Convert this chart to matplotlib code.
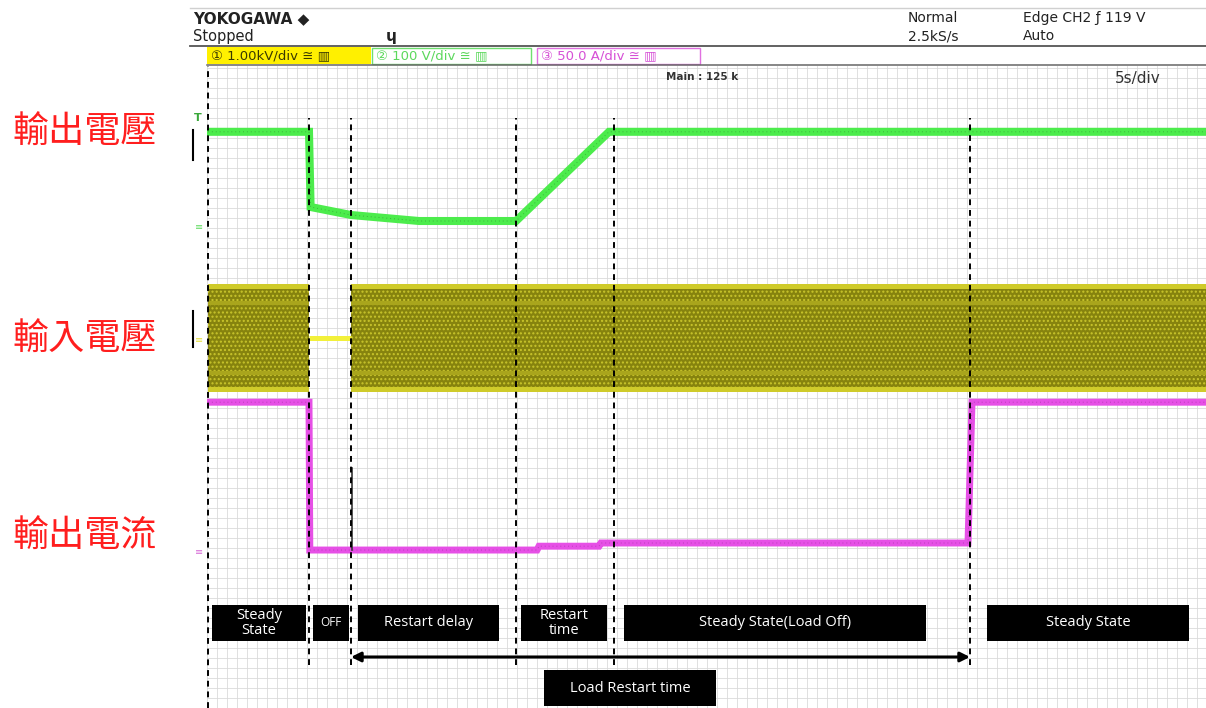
import matplotlib
matplotlib.use('Agg')
import matplotlib.pyplot as plt
import numpy as np
from matplotlib.patches import Rectangle

# ---------------- data ----------------
# time axis: 5 s/div, seconds from left edge of screen
event_t = [5.10, 7.20, 15.45, 20.35, 38.15]          # dashed cursor lines

# CH2 output voltage (100 V/div)
vout_t = [0.05, 5.10, 5.18, 7.20, 10.60, 15.45, 20.10, 49.95]
vout_v = [119, 119, 25, 15, 7.5, 7.5, 119, 119]

# CH1 input voltage (1.00 kV/div) : AC envelope peak, on/off segments
vin_peak = 681
vin_on_segments = [(0.05, 5.10), (7.20, 49.95)]
vin_off_t = [5.10, 7.20]
vin_off_v = [0, 0]

# CH3 output current (50.0 A/div)
iout_t = [0.05, 5.10, 5.14, 16.50, 16.60, 19.60, 19.70, 38.05, 38.25, 49.95]
iout_a = [93, 93, 0.6, 0.6, 3.0, 3.0, 5.0, 5.0, 93, 93]
spike_t = [7.25, 7.25]
spike_a = [0.6, 52]

# channel settings: (units per div, ground position in div from bottom)
ch_scale = {'vin': 1000.0, 'vout': 100.0, 'iout': 50.0}
ch_ground = {'vin': 4.625, 'vout': 6.0125, 'iout': 1.9625}

phase_labels = ["Steady\nState", "OFF", "Restart delay", "Restart\ntime",
                "Steady State(Load Off)", "Steady State", "Load Restart time"]
side_labels = ["輸出電壓", "輸入電壓", "輸出電流"]

# ---------------- figure ----------------
W, H = 1206, 708
fig = plt.figure(figsize=(W / 100, H / 100), dpi=100)
fig.patch.set_facecolor('white')

def to_div(vals, ch):
    return ch_ground[ch] + np.asarray(vals, float) / ch_scale[ch]

# scope screen axes
px_per_div = 80.0
sc = fig.add_axes([207 / W, 0, (W - 207) / W, 642 / H])
sc.set_xlim(0, (W - 207) / 20.0)
sc.set_ylim(0, 642 / px_per_div)
sc.set_xticks(np.arange(0, 50, 0.5))
sc.set_yticks(np.arange(0, 8.1, 0.125))
sc.grid(True, color='#dadada', lw=0.6)
sc.tick_params(length=0, labelbottom=False, labelleft=False)
for s in sc.spines.values():
    s.set_visible(False)
sc.set_axisbelow(True)

# input voltage band
plt.rcParams['hatch.linewidth'] = 1.0
for (a, b) in vin_on_segments:
    tt = [a, b]
    lo = to_div([-vin_peak, -vin_peak], 'vin')
    hi = to_div([vin_peak, vin_peak], 'vin')
    sc.fill_between(tt, lo, hi, facecolor='#86830e', edgecolor='#c9c52c',
                    hatch='....', linewidth=0, zorder=3)
    edge = 0.07
    sc.fill_between(tt, hi - edge, hi, color='#cfcb2a', lw=0, zorder=3.2)
    sc.fill_between(tt, lo, lo + edge, color='#cfcb2a', lw=0, zorder=3.2)
    sc.fill_between(tt, hi - 0.27, hi - 0.22, color='#a9a51c', lw=0, zorder=3.1)
    sc.fill_between(tt, lo + 0.22, lo + 0.27, color='#a9a51c', lw=0, zorder=3.1)
sc.plot(vin_off_t, to_div(vin_off_v, 'vin'), color='#f2f03a', lw=3.6,
        solid_capstyle='butt', zorder=3)

# output voltage
sc.plot(vout_t, to_div(vout_v, 'vout'), color='#4cec4c', lw=5.8,
        solid_joinstyle='miter', zorder=4)
sc.plot(vout_t, to_div(vout_v, 'vout'), color='#2f8f2f', lw=0.7,
        dashes=(1, 3), alpha=0.6, zorder=4.1)

# output current
sc.plot(iout_t, to_div(iout_a, 'iout'), color='#e650e6', lw=5.0,
        solid_joinstyle='miter', zorder=4)
sc.plot(iout_t, to_div(iout_a, 'iout'), color='#8a2a8a', lw=0.7,
        dashes=(1, 3), alpha=0.5, zorder=4.1)
sc.plot(spike_t, to_div(spike_a, 'iout'), color='#333333', lw=1.2, zorder=4.2)

# cursor lines
ytop = (708 - 118) / px_per_div / (642 / px_per_div)
ybot = (708 - 665) / px_per_div / (642 / px_per_div)
for t in event_t:
    sc.axvline(t, ymin=ybot, ymax=ytop, color='black', lw=1.4,
               dashes=(3, 2.5), zorder=5)
sc.axvline(0.05, color='black', lw=1.4, dashes=(3, 2.5), zorder=5)

# load restart arrow
y_arrow = (708 - 657) / px_per_div
sc.annotate('', xy=(event_t[1], y_arrow), xytext=(event_t[4], y_arrow),
            arrowprops=dict(arrowstyle='<|-|>', lw=2.2, color='black',
                            mutation_scale=14, shrinkA=0, shrinkB=0),
            zorder=6)

# ---------------- overlay (pixel coordinates) ----------------
ov = fig.add_axes([0, 0, 1, 1], zorder=10)
ov.set_xlim(0, W)
ov.set_ylim(H, 0)
ov.axis('off')
ov.patch.set_alpha(0)

fam = ['DejaVu Sans', 'Noto Sans CJK JP']
# header lines
ov.plot([190, W], [8, 8], color='#d0d0d0', lw=1)
ov.plot([190, W], [46, 46], color='#555555', lw=1.3)
ov.plot([207, W], [64.5, 64.5], color='#666666', lw=1.1)

ov.text(193, 19, "YOKOGAWA ◆", fontsize=11, fontweight='bold', color='#222',
        va='center', ha='left', family=fam)
ov.text(193, 37, "Stopped", fontsize=10.5, color='#222', va='center', family=fam)
ov.text(386, 36, "ɥ", fontsize=11, fontweight='bold', color='#222', va='center',
        family=fam)
ov.text(908, 18, "Normal", fontsize=10, color='#222', va='center', family=fam)
ov.text(908, 36, "2.5kS/s", fontsize=10, color='#222', va='center', family=fam)
ov.text(1023, 18, "Edge CH2 ƒ 119 V", fontsize=10, color='#222', va='center',
        family=fam)
ov.text(1023, 36, "Auto", fontsize=10, color='#222', va='center', family=fam)

# channel bar
ov.add_patch(Rectangle((207, 47), 164, 17, facecolor='#fff000', edgecolor='none'))
ov.add_patch(Rectangle((372, 47.5), 159, 16, facecolor='white',
                       edgecolor='#6fe06f', lw=1))
ov.add_patch(Rectangle((537, 47.5), 163, 16, facecolor='white',
                       edgecolor='#e070e0', lw=1))
ov.text(211, 56, "① 1.00kV/div ≅ ▥", fontsize=9.5, color='#3a3a00',
        va='center', family=fam)
ov.text(376, 56, "② 100 V/div ≅ ▥", fontsize=9.5, color='#5cd85c',
        va='center', family=fam)
ov.text(541, 56, "③ 50.0 A/div ≅ ▥", fontsize=9.5, color='#d650d6',
        va='center', family=fam)

ov.text(666, 77, "Main : 125 k", fontsize=7.5, fontweight='bold', color='#333',
        va='center', family=fam)
ov.text(1115, 78, "5s/div", fontsize=11, color='#333', va='center', family=fam)

# channel markers on the left edge
ov.text(194, 118, "T", fontsize=8, fontweight='bold', color='#3aa83a',
        va='center', family=fam)
ov.plot([193, 193], [130, 160], color='black', lw=1.5)
ov.plot([193, 193], [311, 347], color='black', lw=1.5)
ov.text(195, 227, "≡", fontsize=7, color='#66dd66', va='center', family=fam)
ov.text(195, 340, "≡", fontsize=7, color='#e6e040', va='center', family=fam)
ov.text(195, 552, "≡", fontsize=7, color='#d870d8', va='center', family=fam)

# red labels
for lab, yy in zip(side_labels, [133, 340, 537]):
    ov.text(12, yy, lab, fontsize=26, color='#ff1e1e', va='center', ha='left',
            family=['Noto Sans CJK TC', 'DejaVu Sans'])

# phase boxes
box_pos = [(212, 306, 605, 641), (313, 349, 605, 641), (358, 499, 605, 641),
           (521, 607, 605, 641), (624, 926, 605, 641), (987, 1189, 605, 641),
           (544, 716, 670, 706)]
for lab, (x0, x1, y0, y1) in zip(phase_labels, box_pos):
    ov.add_patch(Rectangle((x0, y0), x1 - x0, y1 - y0, facecolor='black',
                           edgecolor='none', zorder=11))
    fs = 8.5 if lab == "OFF" else 10.5
    ov.text((x0 + x1) / 2, (y0 + y1) / 2, lab, color='white', fontsize=fs,
            ha='center', va='center', linespacing=0.95, zorder=12,
            family=['Open Sans', 'DejaVu Sans'])

fig.savefig('out.png', dpi=100)
